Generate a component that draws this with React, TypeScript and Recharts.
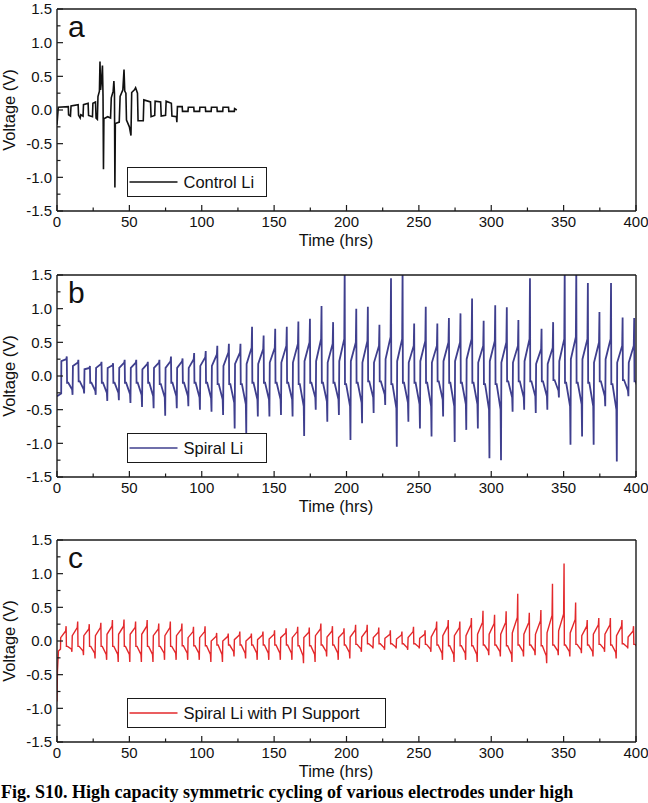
import { LineChart, Line, XAxis, YAxis, Legend } from 'recharts';

const FONT = '"Liberation Sans", Arial, Helvetica, sans-serif';
const INK = '#1a1a1a';

// axis ticks: minor every 25 h / 0.25 V, labels on every second one
const TIME_TICKS = [0, 25, 50, 75, 100, 125, 150, 175, 200, 225, 250, 275, 300, 325, 350, 375, 400];
const VOLT_TICKS = [-1.5, -1.25, -1, -0.75, -0.5, -0.25, 0, 0.25, 0.5, 0.75, 1, 1.25, 1.5];

// Control Li: cell shorts after ~125 h, traced point by point
const controlTime = [0, 0.4, 0.9, 7.8, 8.0, 9.3, 9.7, 14.6, 14.9, 16.0, 16.4, 18.0, 18.3, 21.5, 21.8, 24.5, 24.8, 26.6, 27.0, 27.9, 28.3, 29.3, 29.7, 30.1, 30.8, 31.4, 31.8, 32.1, 32.4, 35.0, 37.0, 37.5, 38.8, 39.3, 39.7, 40.0, 40.3, 43.0, 43.6, 45.5, 46.3, 46.8, 47.6, 48.0, 50.0, 51.1, 51.6, 53.5, 54.3, 55.6, 56.0, 59.6, 60.0, 64.6, 65.0, 67.5, 67.8, 71.6, 72.0, 75.0, 75.4, 79.0, 79.4, 82.5, 82.8, 83.2, 86.5, 86.7, 90.5, 90.7, 94.5, 94.7, 98.5, 98.7, 102.5, 102.7, 106.5, 106.7, 110.5, 110.7, 114.5, 114.7, 118.5, 118.7, 122.5, 122.7, 124.2];
const controlVolt = [-0.22, -0.1, 0.04, 0.05, -0.07, -0.09, 0.06, 0.08, -0.08, -0.12, -0.07, -0.09, 0.08, 0.1, -0.08, -0.1, 0.1, 0.12, -0.12, -0.14, 0.2, 0.28, 0.72, 0.3, 0.45, 0.66, 0.2, -0.88, -0.13, -0.1, -0.12, 0.18, 0.28, 0.43, 0.25, -1.15, -0.2, -0.18, 0.2, 0.3, 0.6, 0.28, 0.25, -0.15, -0.25, -0.38, 0.26, 0.3, 0.33, 0.25, -0.16, -0.16, 0.15, 0.12, -0.1, -0.08, 0.13, 0.12, -0.09, -0.08, 0.13, 0.1, -0.09, -0.1, -0.18, 0.05, 0.05, -0.02, -0.02, 0.04, 0.04, -0.02, -0.02, 0.04, 0.04, -0.02, -0.02, 0.04, 0.04, -0.02, -0.02, 0.04, 0.04, -0.02, -0.02, 0.02, 0.0];

// Spiral Li: one entry per 8 h cycle (plateau start/end, spike) for each half
const spiralHiStart = [0.22, 0.15, 0.1, 0.12, 0.12, 0.12, 0.12, 0.1, 0.12, 0.12, 0.12, 0.12, 0.15, 0.15, 0.15, 0.18, 0.18, 0.18, 0.2, 0.2, 0.2, 0.22, 0.22, 0.2, 0.22, 0.22, 0.2, 0.2, 0.25, 0.22, 0.2, 0.22, 0.2, 0.22, 0.22, 0.25, 0.2, 0.22, 0.2, 0.2, 0.22, 0.18, 0.18, 0.22, 0.25, 0.25, 0.2, 0.25, 0.2, 0.2];
const spiralHiEnd = [0.25, 0.2, 0.12, 0.18, 0.16, 0.2, 0.2, 0.18, 0.2, 0.22, 0.22, 0.25, 0.28, 0.32, 0.35, 0.35, 0.42, 0.4, 0.42, 0.45, 0.48, 0.5, 0.55, 0.48, 0.55, 0.5, 0.52, 0.45, 0.58, 0.55, 0.45, 0.52, 0.45, 0.5, 0.5, 0.55, 0.45, 0.52, 0.5, 0.45, 0.55, 0.4, 0.42, 0.55, 0.58, 0.55, 0.5, 0.55, 0.45, 0.45];
const spiralPeak = [0.29, 0.24, 0.15, 0.21, 0.19, 0.24, 0.24, 0.21, 0.24, 0.29, 0.26, 0.34, 0.37, 0.45, 0.48, 0.48, 0.73, 0.6, 0.7, 0.73, 0.81, 0.85, 1.04, 0.8, 1.6, 1.0, 1.03, 0.76, 1.45, 1.6, 0.78, 1.03, 0.78, 0.86, 0.93, 1.15, 0.82, 1.05, 1.02, 0.83, 1.45, 0.7, 0.8, 1.6, 1.6, 1.38, 0.95, 1.38, 0.87, 0.86];
const spiralLoStart = [-0.1, -0.08, -0.1, -0.1, -0.1, -0.1, -0.1, -0.1, -0.12, -0.1, -0.1, -0.1, -0.1, -0.12, -0.12, -0.12, -0.1, -0.1, -0.1, -0.1, -0.12, -0.1, -0.1, -0.1, -0.12, -0.1, -0.08, -0.08, -0.12, -0.1, -0.1, -0.1, -0.08, -0.1, -0.1, -0.1, -0.12, -0.12, -0.08, -0.08, -0.08, -0.08, -0.06, -0.1, -0.1, -0.1, -0.08, -0.12, -0.06, -0.08];
const spiralLoEnd = [-0.2, -0.2, -0.22, -0.25, -0.25, -0.27, -0.28, -0.3, -0.32, -0.3, -0.3, -0.32, -0.33, -0.35, -0.4, -0.42, -0.35, -0.35, -0.35, -0.35, -0.45, -0.32, -0.38, -0.35, -0.45, -0.4, -0.32, -0.28, -0.48, -0.4, -0.42, -0.45, -0.35, -0.45, -0.42, -0.42, -0.5, -0.5, -0.32, -0.32, -0.3, -0.3, -0.22, -0.45, -0.42, -0.45, -0.3, -0.5, -0.22, -0.25];
const spiralTrough = [-0.28, -0.26, -0.28, -0.37, -0.36, -0.4, -0.46, -0.48, -0.59, -0.48, -0.45, -0.5, -0.53, -0.58, -0.78, -0.85, -0.6, -0.6, -0.58, -0.6, -0.89, -0.5, -0.68, -0.58, -0.95, -0.7, -0.55, -0.43, -1.05, -0.68, -0.78, -0.9, -0.6, -0.98, -0.8, -0.78, -1.22, -1.25, -0.53, -0.5, -0.55, -0.5, -0.32, -1.02, -0.9, -1.02, -0.45, -1.27, -0.3, -0.4];

// Spiral Li with PI support
const supportHiStart = [0.05, 0.08, 0.08, 0.08, 0.1, 0.1, 0.1, 0.1, 0.08, 0.08, 0.08, 0.05, 0.05, 0.0, 0.0, 0.02, 0.0, 0.02, 0.03, 0.05, 0.05, 0.05, 0.08, 0.06, 0.05, 0.06, 0.06, 0.05, 0.04, 0.03, 0.05, 0.04, 0.06, 0.08, 0.08, 0.08, 0.1, 0.1, 0.1, 0.12, 0.1, 0.1, 0.12, 0.15, 0.12, 0.08, 0.1, 0.1, 0.08, 0.06];
const supportHiEnd = [0.15, 0.2, 0.18, 0.2, 0.22, 0.22, 0.2, 0.22, 0.18, 0.2, 0.18, 0.14, 0.14, 0.07, 0.07, 0.09, 0.07, 0.09, 0.1, 0.12, 0.14, 0.13, 0.18, 0.15, 0.13, 0.16, 0.16, 0.13, 0.1, 0.09, 0.14, 0.1, 0.2, 0.22, 0.2, 0.24, 0.28, 0.26, 0.28, 0.35, 0.28, 0.3, 0.38, 0.4, 0.32, 0.22, 0.24, 0.24, 0.22, 0.15];
const supportPeak = [0.22, 0.29, 0.25, 0.27, 0.31, 0.32, 0.29, 0.31, 0.26, 0.29, 0.26, 0.21, 0.22, 0.12, 0.11, 0.14, 0.11, 0.14, 0.16, 0.19, 0.21, 0.2, 0.26, 0.22, 0.19, 0.24, 0.24, 0.2, 0.16, 0.14, 0.21, 0.16, 0.29, 0.31, 0.29, 0.34, 0.45, 0.39, 0.44, 0.7, 0.42, 0.46, 0.85, 1.15, 0.57, 0.31, 0.34, 0.34, 0.31, 0.22];
const supportLoStart = [-0.08, -0.08, -0.08, -0.08, -0.08, -0.08, -0.08, -0.08, -0.08, -0.08, -0.07, -0.07, -0.07, -0.06, -0.06, -0.06, -0.06, -0.06, -0.06, -0.06, -0.07, -0.07, -0.06, -0.06, -0.06, -0.05, -0.04, -0.04, -0.04, -0.04, -0.04, -0.05, -0.06, -0.07, -0.07, -0.07, -0.06, -0.06, -0.07, -0.06, -0.06, -0.07, -0.06, -0.06, -0.05, -0.06, -0.05, -0.06, -0.04, -0.05];
const supportLoEnd = [-0.12, -0.15, -0.18, -0.2, -0.2, -0.2, -0.2, -0.2, -0.18, -0.18, -0.18, -0.18, -0.2, -0.2, -0.16, -0.18, -0.18, -0.18, -0.18, -0.18, -0.22, -0.2, -0.16, -0.18, -0.17, -0.12, -0.09, -0.1, -0.09, -0.1, -0.09, -0.12, -0.18, -0.2, -0.18, -0.2, -0.15, -0.16, -0.2, -0.16, -0.15, -0.22, -0.15, -0.16, -0.13, -0.16, -0.12, -0.17, -0.09, -0.11];
const supportTrough = [-0.16, -0.21, -0.26, -0.28, -0.31, -0.31, -0.31, -0.31, -0.28, -0.28, -0.28, -0.28, -0.31, -0.31, -0.23, -0.26, -0.28, -0.28, -0.28, -0.28, -0.33, -0.31, -0.23, -0.28, -0.26, -0.16, -0.11, -0.13, -0.11, -0.13, -0.11, -0.16, -0.28, -0.31, -0.28, -0.31, -0.21, -0.23, -0.31, -0.23, -0.21, -0.33, -0.21, -0.23, -0.18, -0.23, -0.16, -0.26, -0.11, -0.15];

type Pt = { t: number; v: number };

// galvanostatic protocol: 4 h plating + 4 h stripping per cycle
const CYCLE_HRS = 8;

function cyclePoints(
  lead: Pt[],
  firstStart: number,
  hiStart: number[],
  hiEnd: number[],
  peak: number[],
  loStart: number[],
  loEnd: number[],
  trough: number[],
): Pt[] {
  const pts = [...lead];
  peak.forEach((p, k) => {
    const t0 = firstStart + k * CYCLE_HRS;
    pts.push({ t: t0 + 0.05, v: hiStart[k] });
    pts.push({ t: t0 + 3.5, v: hiEnd[k] });
    pts.push({ t: t0 + 3.8, v: p });
    pts.push({ t: t0 + 4.0, v: loStart[k] });
    pts.push({ t: t0 + 4.8, v: loStart[k] });
    pts.push({ t: t0 + 7.5, v: loEnd[k] });
    pts.push({ t: t0 + 7.8, v: trough[k] });
  });
  return pts;
}

const controlData: Pt[] = controlTime.map((t, i) => ({ t, v: controlVolt[i] }));
const spiralData = cyclePoints(
  [{ t: 0, v: -0.3 }, { t: 2.9, v: -0.26 }],
  2.95, spiralHiStart, spiralHiEnd, spiralPeak, spiralLoStart, spiralLoEnd, spiralTrough,
);
const supportData = cyclePoints(
  [{ t: 0, v: -0.9 }, { t: 0.3, v: -0.45 }, { t: 1.0, v: -0.15 }, { t: 2.4, v: -0.12 }],
  2.5, supportHiStart, supportHiEnd, supportPeak, supportLoStart, supportLoEnd, supportTrough,
);

function TimeTick({ x, y, payload }: any) {
  const major = payload.value % 50 === 0;
  return (
    <g>
      <line x1={x} x2={x} y1={y} y2={y - (major ? 6 : 3.5)} stroke={INK} strokeWidth={1.2} />
      {major && (
        <text x={x} y={y + 16} textAnchor="middle" fontSize={15} fontFamily={FONT} fill="#111">
          {payload.value}
        </text>
      )}
    </g>
  );
}

function VoltTick({ x, y, payload }: any) {
  const v = payload.value;
  const major = Math.abs(v * 2 - Math.round(v * 2)) < 1e-6;
  return (
    <g>
      <line x1={x} x2={x + (major ? 6 : 3.5)} y1={y} y2={y} stroke={INK} strokeWidth={1.2} />
      {major && (
        <text x={x - 5} y={y} dy="0.36em" textAnchor="end" fontSize={15} fontFamily={FONT} fill="#111">
          {v.toFixed(1)}
        </text>
      )}
    </g>
  );
}

function Panel({ top, letter, data, color, strokeWidth, name, legendWidth }: {
  top: number; letter: string; data: Pt[]; color: string; strokeWidth: number; name: string; legendWidth: number;
}) {
  const frame = { stroke: INK, strokeWidth: 1.4 };
  return (
    <div style={{ position: 'absolute', left: 0, top }}>
      <LineChart width={648} height={262} data={data} margin={{ top: 8, right: 11, bottom: 11, left: 7 }}>
        <XAxis
          xAxisId="bottom" dataKey="t" type="number" domain={[0, 400]} ticks={TIME_TICKS} interval={0}
          allowDataOverflow tickSize={0} tickMargin={0} tickLine={false} axisLine={frame} tick={TimeTick} height={40}
          label={{
            content: () => (
              <text x={336} y={246} textAnchor="middle" fontSize={16.5} fontFamily={FONT} fill="#111">Time (hrs)</text>
            ),
          }}
        />
        <XAxis
          xAxisId="top" orientation="top" dataKey="t" type="number" domain={[0, 400]} height={1}
          tick={false} tickLine={false} axisLine={frame}
          label={{
            content: () => (
              <text x={68} y={37} fontSize={30} fontFamily={FONT} fill="#111">{letter}</text>
            ),
          }}
        />
        <YAxis
          yAxisId="left" type="number" domain={[-1.5, 1.5]} ticks={VOLT_TICKS} interval={0} allowDataOverflow
          tickSize={0} tickMargin={0} tickLine={false} axisLine={frame} tick={VoltTick} width={50}
          label={{
            content: () => (
              <text transform="translate(15, 110) rotate(-90)" textAnchor="middle" fontSize={16.5} fontFamily={FONT} fill="#111">
                Voltage (V)
              </text>
            ),
          }}
        />
        <YAxis
          yAxisId="right" orientation="right" type="number" domain={[-1.5, 1.5]} width={1}
          tick={false} tickLine={false} axisLine={frame}
        />
        <Line
          xAxisId="bottom" yAxisId="left" type="linear" dataKey="v" name={name} stroke={color}
          strokeWidth={strokeWidth} dot={false} activeDot={false} isAnimationActive={false}
        />
        <Legend
          layout="horizontal" align="center" verticalAlign="middle"
          wrapperStyle={{ left: 127, top: 167, width: legendWidth, height: 30 }}
          content={() => (
            <div style={{
              boxSizing: 'border-box', width: legendWidth, height: 30, border: `1.5px solid ${INK}`,
              background: '#fff', display: 'flex', alignItems: 'center', fontFamily: FONT, fontSize: 16.5, color: '#111',
            }}>
              <svg width={52} height={10} style={{ flex: 'none' }}>
                <line x1={1.5} x2={49.5} y1={5} y2={5} stroke={color} strokeWidth={1.5} />
              </svg>
              <span style={{ marginLeft: 3.5, whiteSpace: 'nowrap' }}>{name}</span>
            </div>
          )}
        />
      </LineChart>
    </div>
  );
}

export default function App() {
  return (
    <div style={{ position: 'absolute', left: 0, top: 0, width: 648, height: 803, background: '#fff', overflow: 'hidden', fontFamily: FONT }}>
      <Panel top={0} letter="a" data={controlData} color="#111111" strokeWidth={1.6} name="Control Li" legendWidth={140} />
      <Panel top={266} letter="b" data={spiralData} color="#3f3f8e" strokeWidth={1.8} name="Spiral Li" legendWidth={140} />
      <Panel top={531} letter="c" data={supportData} color="#e3282b" strokeWidth={1.4} name="Spiral Li with PI Support" legendWidth={259} />
      <div style={{
        position: 'absolute', left: 1, top: 782, whiteSpace: 'nowrap',
        fontFamily: '"Liberation Serif", "Times New Roman", serif', fontWeight: 'bold', fontSize: 18, color: '#000',
      }}>
        Fig. S10. High capacity symmetric cycling of various electrodes under high
      </div>
    </div>
  );
}
